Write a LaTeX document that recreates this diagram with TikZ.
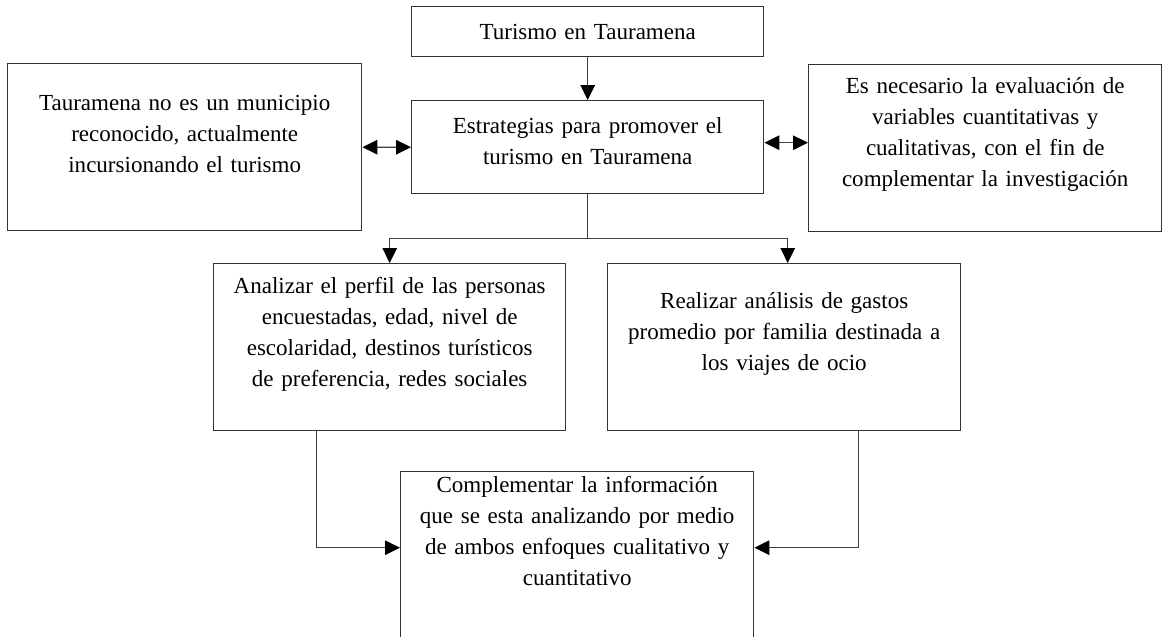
\documentclass[tikz,border=0pt]{standalone}
\usepackage{fontspec}
\setmainfont{Liberation Serif}
\usetikzlibrary{arrows.meta, positioning, calc}

\tikzset{
  caja/.style={draw=black!80, line width=0.8pt, anchor=north west, align=center,
    inner xsep=0pt, inner ysep=0pt, font=\fontsize{13.1}{17.6}\selectfont},
  punta/.tip={Triangle[length=0.3cm, width=0.29cm, color=black]},
  flecha/.style={draw=black!75, line width=0.8pt, -punta},
  doble/.style={draw=black!75, line width=0.8pt, punta-punta},
  linea/.style={draw=black!75, line width=0.8pt}
}

\begin{document}
\begin{tikzpicture}
\useasboundingbox (0,0) rectangle (23.24,-12.72);

% Cajas superiores
\node[caja, text width=7.04cm, text height=0.66cm, text depth=0.34cm] (turismo) at (8.22,-0.12)
    {Turismo en Tauramena};
\node[caja, text width=7.04cm, text height=0.66cm, text depth=1.2cm] (estrategias) at (8.22,-2.00)
    {Estrategias para promover el\\ turismo en Tauramena};
\node[caja, text width=7.08cm, text height=0.94cm, text depth=2.4cm] (municipio) at (0.14,-1.26)
    {Tauramena no es un municipio\\ reconocido, actualmente\\ incursionando el turismo};
\node[caja, text width=7.06cm, text height=0.58cm, text depth=2.76cm] (evaluacion) at (16.16,-1.28)
    {Es necesario la evaluación de\\ variables cuantitativas y\\ cualitativas, con el fin de\\ complementar la investigación};

% Cajas intermedias
\node[caja, text width=7.04cm, text height=0.6cm, text depth=2.74cm] (perfil) at (4.26,-5.26)
    {Analizar el perfil de las personas\\ encuestadas, edad, nivel de\\ escolaridad, destinos turísticos\\ de preferencia, redes sociales};
\node[caja, text width=7.06cm, text height=0.9cm, text depth=2.44cm] (gastos) at (12.14,-5.26)
    {Realizar análisis de gastos\\ promedio por familia destinada a\\ los viajes de ocio};

% Caja inferior
\node[caja, text width=7.06cm, text height=0.42cm, text depth=2.92cm] (complementar) at (8.00,-9.42)
    {Complementar la información\\ que se esta analizando por medio\\ de ambos enfoques cualitativo y\\ cuantitativo};

% Conectores
\draw[flecha] (turismo.south) -- (estrategias.north);
\draw[doble] (municipio.east) -- (estrategias.west);
\draw[doble] ([yshift=0.09cm]estrategias.east) -- ([yshift=0.09cm]estrategias.east -| evaluacion.west);

\coordinate (rama) at ([yshift=-0.88cm]estrategias.south);
\draw[linea] (estrategias.south) -- (rama);
\draw[flecha] (rama) -| (perfil.north);
\draw[flecha] (rama) -| ([xshift=0.07cm]gastos.north);

\draw[flecha] ([xshift=-1.46cm]perfil.south) |- ([yshift=0.15cm]complementar.west);
\draw[flecha] ([xshift=1.49cm]gastos.south) |- ([yshift=0.15cm]complementar.east);
\end{tikzpicture}
\end{document}
